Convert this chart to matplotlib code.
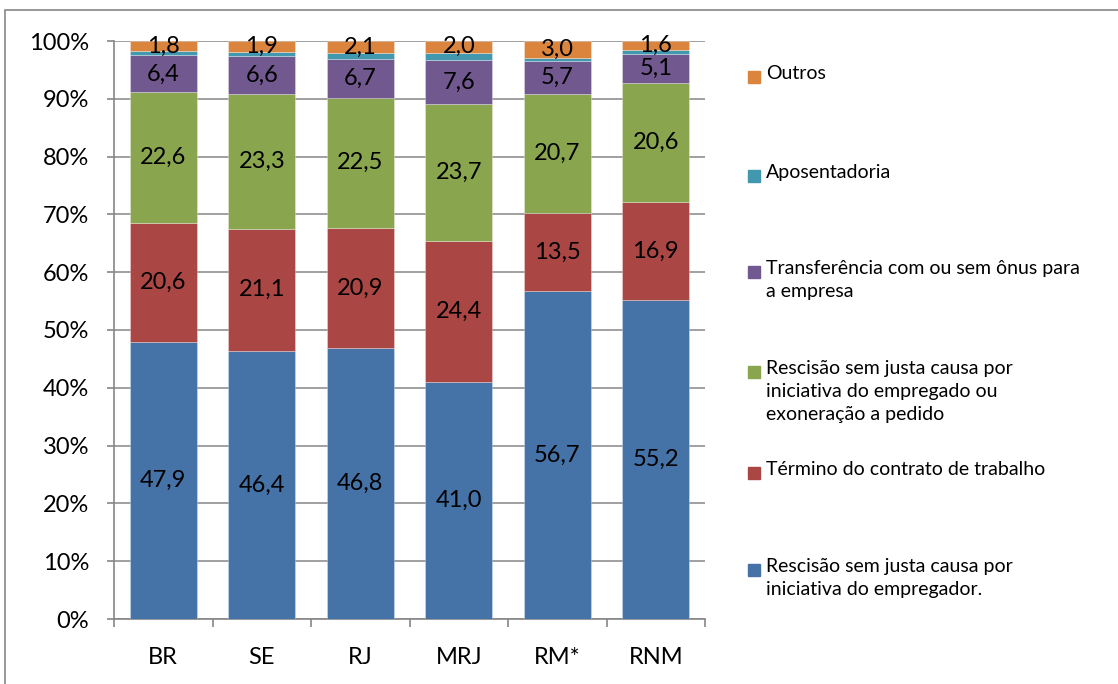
import matplotlib
matplotlib.use("Agg")
import matplotlib.pyplot as plt
from matplotlib.patches import Rectangle
import numpy as np

plt.rcParams['font.family'] = ['Lato', 'DejaVu Sans']

categories = ['BR', 'SE', 'RJ', 'MRJ', 'RM*', 'RNM']
series_names = [
    'Rescisão sem justa causa por\niniciativa do empregador.',
    'Término do contrato de trabalho',
    'Rescisão sem justa causa por\niniciativa do empregado ou\nexoneração a pedido',
    'Transferência com ou sem ônus para\na empresa',
    'Aposentadoria',
    'Outros',
]
empregador = [47.9, 46.4, 46.8, 41.0, 56.7, 55.2]
termino = [20.6, 21.1, 20.9, 24.4, 13.5, 16.9]
empregado = [22.6, 23.3, 22.5, 23.7, 20.7, 20.6]
transferencia = [6.4, 6.6, 6.7, 7.6, 5.7, 5.1]
aposentadoria = [0.7, 0.7, 1.0, 1.3, 0.4, 0.6]
outros = [1.8, 1.9, 2.1, 2.0, 3.0, 1.6]
series = [empregador, termino, empregado, transferencia, aposentadoria, outros]
show_labels = [True, True, True, True, False, True]
colors = ['#4572A7', '#AA4643', '#89A54E', '#71588F', '#4198AF', '#DB843D']

W, H = 1118, 684
fig = plt.figure(figsize=(W / 100, H / 100), dpi=100)
ax = fig.add_axes([114 / W, 1 - 619 / H, (705 - 114) / W, (619 - 41) / H])

x = np.arange(len(categories))
bottom = np.zeros(len(categories))
for vals, col, lab in zip(series, colors, show_labels):
    vals = np.array(vals)
    bars = ax.bar(x, vals, bottom=bottom, width=0.68, color=col, zorder=3,
                  edgecolor=(1, 1, 1, 0.35), linewidth=0.6)
    if lab:
        ax.bar_label(bars, labels=[f"{v:.1f}".replace('.', ',') for v in vals],
                     label_type='center', fontsize=17, color='black', zorder=4)
    bottom += vals

ax.set_xlim(-0.5, len(categories) - 0.5)
ax.set_ylim(0, 100)
ax.set_yticks(np.arange(0, 101, 10))
ax.set_yticklabels([f"{v}%" for v in range(0, 101, 10)], fontsize=17)
ax.set_xticks(x)
ax.set_xticklabels(categories, fontsize=17)
ax.set_xticks(np.arange(-0.5, len(categories), 1), minor=True)
ax.tick_params(axis='x', which='major', length=0, pad=20)
ax.tick_params(axis='x', which='minor', length=6, color='#868686', direction='out', width=1.2)
ax.tick_params(axis='y', length=5, color='#868686', direction='out', pad=13, width=1.2)
ax.yaxis.grid(True, color='#868686', linewidth=1.1, zorder=0)
for s in ['top', 'right']:
    ax.spines[s].set_visible(False)
for s in ['left', 'bottom']:
    ax.spines[s].set_color('#868686')
    ax.spines[s].set_linewidth(1.2)

# legend (manual placement to match reference)
legend_first_line = [570, 473, 372, 272, 176, 77]
line_h = 27
for name, col, y1 in zip(series_names, colors, legend_first_line):
    fig.patches.append(Rectangle((748 / W, 1 - (y1 + 6) / H), 12 / W, 12 / H,
                                 transform=fig.transFigure, color=col))
    fig.text(766 / W, 1 - (y1 - 12) / H, name, fontsize=14, va='top', ha='left',
             linespacing=1.42, transform=fig.transFigure)

# outer chart border
fig.patches.append(Rectangle((5 / W, -0.1), 1.2, 1 - 10 / H + 0.1,
                             transform=fig.transFigure, fill=False,
                             edgecolor='#868686', linewidth=1.2))

fig.savefig('out.png', dpi=100)
